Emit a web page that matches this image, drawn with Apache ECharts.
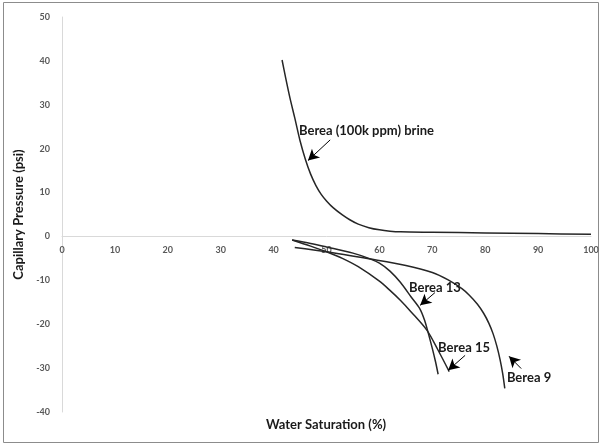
<!DOCTYPE html>
<html>
<head>
<meta charset="utf-8">
<script src="https://cdn.jsdelivr.net/npm/echarts@6/dist/echarts.min.js"></script>
<style>
  html, body { margin: 0; padding: 0; background: #fff; }
  #chart { width: 602px; height: 445px; }
</style>
</head>
<body>
<div id="chart"></div>
<script>
// values: [water saturation %, capillary pressure psi]
var brine = [
  [41.6, 40.2], [42.3, 36], [43.1, 31.5], [44, 27], [45, 21.8], [46, 17.6],
  [47, 14.2], [48, 11.6], [49, 9.6], [50, 8.1], [51.3, 6.5], [53, 4.9],
  [54.4, 3.8], [56, 2.8], [58, 2.0], [60, 1.5], [62, 1.2], [64, 1.05],
  [70, 0.95], [80, 0.8], [90, 0.65], [100, 0.5]
];
var berea9 = [
  [44, -2.5], [50, -3.5], [58, -5.1], [65, -6.6], [70, -8.2], [73, -9.9],
  [75.6, -11.9], [77, -13.4], [78.5, -15.4], [79.7, -17.5], [80.7, -19.8],
  [81.5, -22.2], [82.2, -25], [82.8, -28], [83.3, -31.2], [83.7, -34.6]
];
var berea13 = [
  [43.5, -0.8], [47, -1.6], [50, -2.4], [55, -3.8], [58, -5], [60, -6.1],
  [62, -7.9], [64, -10.5], [66, -13.8], [67.7, -16.6], [68.6, -19.3],
  [69.1, -21.4], [70, -25.5], [70.6, -28.5], [71.1, -31.4]
];
var berea15 = [
  [43.5, -0.8], [47, -2.2], [50, -3.5], [53, -5], [56, -6.9], [60, -10.2],
  [62, -12.3], [64, -14.6], [66, -17.2], [69, -21.4], [71, -25.7], [73.2, -30.8]
];

// annotations: text, text anchor (left, middle), arrow tail, arrow tip
var noteText = ['Berea (100k ppm) brine', 'Berea 13', 'Berea 15', 'Berea 9'];
var noteAnchor = [[44.8, 24.1], [65.6, -11.8], [71.1, -25.3], [84.1, -32.3]];
var arrowFrom = [[50.7, 22.0], [70.5, -12.8], [76.2, -27.1], [86.8, -30.1]];
var arrowTo = [[46.5, 17.3], [67.7, -15.7], [73.0, -30.5], [84.5, -27.3]];

var xTicks = { min: 0, max: 100, interval: 10 };
var yTicks = { min: -40, max: 50, interval: 10 };

var gridTop = 17, gridBottom = 33, chartH = 445;
var plotH = chartH - gridTop - gridBottom;
// move the x axis (line and labels) up to y = 0
var xOffset = -plotH * (0 - yTicks.min) / (yTicks.max - yTicks.min);

var chart = echarts.init(document.getElementById('chart'));

var lineStyle = { color: '#262626', width: 1.5 };
function curve(name, data) {
  return {
    name: name,
    type: 'line',
    data: data,
    smooth: 0.3,
    showSymbol: false,
    symbol: 'none',
    lineStyle: lineStyle,
    itemStyle: { color: '#262626' },
    silent: true
  };
}

var notes = {
  type: 'line',
  data: [],
  silent: true,
  markLine: {
    silent: true,
    symbol: ['none', 'arrow'],
    symbolSize: [9, 11],
    label: { show: false },
    lineStyle: { color: '#000', width: 1, type: 'solid' },
    data: arrowFrom.map(function (p, i) {
      return [{ coord: p }, { coord: arrowTo[i] }];
    })
  },
  markPoint: {
    silent: true,
    symbol: 'circle',
    symbolSize: 0,
    label: {
      show: true,
      position: 'right',
      distance: 0,
      color: '#1a1a1a',
      fontFamily: 'Lato',
      fontWeight: 'bold',
      fontSize: 13,
      formatter: function (p) { return p.name; }
    },
    data: noteAnchor.map(function (p, i) {
      return { name: noteText[i], coord: p };
    })
  }
};

chart.setOption({
  animation: false,
  backgroundColor: '#fff',
  grid: { left: 62, right: 11, top: gridTop, bottom: gridBottom },
  xAxis: {
    type: 'value',
    min: xTicks.min,
    max: xTicks.max,
    interval: xTicks.interval,
    offset: xOffset,
    axisLine: { onZero: false, lineStyle: { color: '#d9d9d9', width: 1 } },
    axisTick: { show: false },
    splitLine: { show: false },
    axisLabel: {
      color: '#595959', fontFamily: 'Lato', fontWeight: 'bold', fontSize: 9, margin: 9
    }
  },
  yAxis: {
    type: 'value',
    min: yTicks.min,
    max: yTicks.max,
    interval: yTicks.interval,
    axisLine: { show: true, lineStyle: { color: '#d9d9d9', width: 1 } },
    axisTick: { show: false },
    splitLine: { show: false },
    axisLabel: {
      color: '#595959', fontFamily: 'Lato', fontWeight: 'bold', fontSize: 9, margin: 12
    },
    name: 'Capillary Pressure (psi)',
    nameLocation: 'middle',
    nameGap: 30,
    nameTextStyle: {
      color: '#1a1a1a', fontFamily: 'Lato', fontWeight: 'bold', fontSize: 13
    }
  },
  graphic: [
    {
      type: 'rect',
      shape: { x: 3.5, y: 2.5, width: 595, height: 440 },
      style: { fill: 'none', stroke: '#8c8c8c', lineWidth: 1 },
      silent: true
    },
    {
      type: 'text',
      x: 326,
      y: 425,
      style: {
        text: 'Water Saturation (%)',
        fill: '#1a1a1a',
        font: 'bold 13px Lato',
        textAlign: 'center',
        textVerticalAlign: 'middle'
      },
      silent: true
    }
  ],
  series: [
    curve('Berea (100k ppm) brine', brine),
    curve('Berea 9', berea9),
    curve('Berea 13', berea13),
    curve('Berea 15', berea15),
    notes
  ]
});
</script>
</body>
</html>
